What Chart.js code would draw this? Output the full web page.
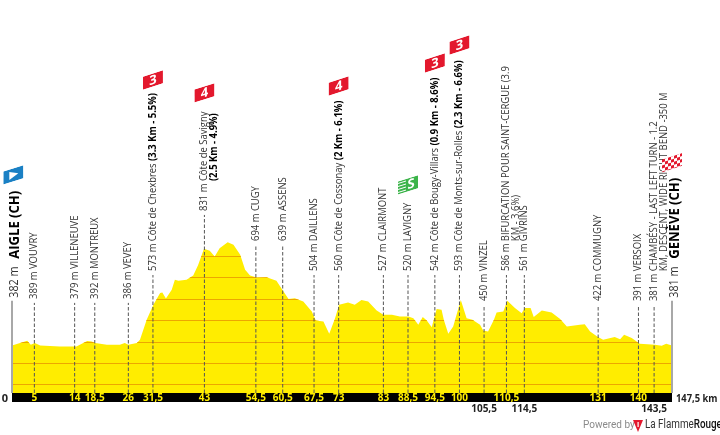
<!DOCTYPE html>
<html>
<head>
<meta charset="utf-8">
<title>Stage profile</title>
<script src="https://cdn.jsdelivr.net/npm/chart.js@4"></script>
<style>
  html, body { margin: 0; padding: 0; background: #fff; }
  canvas { display: block; }
</style>
</head>
<body>
<canvas id="profileChart" width="720" height="435"></canvas>
<script>
// ============ DATA ============

const profileKm = [0, 1.8, 3.4, 4.2, 5.1, 6.3, 10.7, 14.4, 16.8, 17.8, 18.6, 21.2, 24.1, 25.2, 26, 27.9, 28.6, 30.1, 31.6, 33.1, 33.6, 34.4, 35.7, 36.4, 37.2, 39, 40.5, 41.6, 42.9, 44.2, 45.3, 46.4, 48.2, 49.5, 51, 52.1, 53.2, 54.7, 56.9, 59.1, 60.6, 61.8, 63.2, 65.1, 67, 67.9, 69.6, 70.9, 72.2, 73.1, 75.1, 76.6, 78.1, 79.6, 81.5, 83, 84.9, 86.7, 88.6, 89.7, 90.8, 91.8, 92.7, 93.8, 94.9, 96, 96.5, 97.5, 98.6, 100.3, 101.6, 102.9, 104.6, 105.3, 106.4, 107.7, 108.3, 109.8, 110.7, 112.4, 113.9, 114.6, 115.9, 116.6, 118.4, 120.6, 122.5, 124, 126.9, 128, 129.2, 130.7, 132.1, 134.7, 135.9, 136.8, 138.5, 139.6, 140.3, 143.7, 145.2, 146.2, 147.5];
const profileAlt = [382, 393, 404, 385, 393, 382, 377, 377, 402, 400, 393, 385, 385, 393, 385, 393, 408, 501, 571, 626, 629, 600, 641, 688, 683, 688, 708, 757, 832, 823, 796, 835, 863, 851, 804, 734, 708, 698, 700, 683, 636, 598, 602, 587, 540, 498, 493, 436, 509, 571, 582, 571, 594, 587, 545, 525, 525, 517, 517, 509, 478, 514, 498, 467, 551, 548, 501, 436, 470, 594, 509, 501, 478, 451, 447, 501, 535, 540, 590, 556, 532, 556, 556, 514, 545, 535, 505, 470, 478, 481, 447, 424, 408, 421, 411, 431, 416, 400, 390, 385, 380, 390, 381];

const wpKm = [5, 14, 18.5, 26, 31.5, 43, 54.5, 60.5, 67.5, 73, 83, 88.5, 94.5, 100, 105.5, 110.5, 114.5, 131, 140, 143.5];
const wpAlt = [389, 379, 392, 386, 573, 831, 694, 639, 504, 560, 527, 520, 542, 593, 450, 586, 561, 422, 391, 381];
// "*" starts the bold part, "\n" wraps to the next line
const wpName = ['VOUVRY', 'VILLENEUVE', 'MONTREUX', 'VEVEY', 'Côte de Chexbres *(3.3 Km - 5.5%)', 'Côte de Savigny\n*(2.5 Km - 4.9%)', 'CUGY', 'ASSENS', 'DAILLENS', 'Côte de Cossonay *(2 Km - 6.1%)', 'CLAIRMONT', 'LAVIGNY', 'Côte de Bougy-Villars *(0.9 Km - 8.6%)', 'Côte de Monts-sur-Rolles *(2.3 Km - 6.6%)', 'VINZEL', 'BIFURCATION POUR SAINT-CERGUE (3.9\nKM - 3.6%)', 'GIVRINS', 'COMMUGNY', 'VERSOIX', 'CHAMBÉSY - LAST LEFT TURN - 1.2\nKM, DESCENT, WIDE RIGHT BEND -350 M'];
// how high each dashed stem reaches, in metres on the profile scale
const wpStemTop = [580, 580, 580, 580, 710, 990, 850, 850, 710, 710, 710, 710, 710, 710, 570, 710, 710, 570, 570, 570];

const kmLowTicks = [105.5, 114.5, 143.5];
const kmTotal = 147.5;
const altLevels = [200, 300, 400, 500, 600, 700, 800];

const endKm = [0, 147.5];
const endAlt = ['382 m', '381 m'];
const endName = ['AIGLE (CH)', 'GENÈVE (CH)'];
const endStemTop = [590, 590];

const flagKm = [0.3, 31.5, 43, 73, 88.5, 94.5, 100, 147.5];
const flagType = ['start', '3', '4', '4', 'S', '3', '3', 'finish'];
const flagLevel = [1177, 1619, 1559, 1591, 1130, 1698, 1782, 1233];

// ============ STYLE ============

const FONT = '"Open Sans", sans-serif';
const YELLOW = '#ffed00';
const GRID_ORANGE = '#eda600';
const BASE_ALT = 160;

// ============ PLUGIN ============

const profileExtras = {
  id: 'profileExtras',
  beforeDraw(chart) {
    // black km band under the profile
    const { ctx, chartArea } = chart;
    ctx.fillStyle = '#000';
    ctx.fillRect(chartArea.left, chartArea.bottom, chartArea.right - chartArea.left, 9);
  },
  afterDatasetDraw(chart, args) {
    if (chart.data.datasets[args.index].label !== 'profile') return;
    // altitude lines only show inside the yellow shape
    const { ctx, chartArea, scales } = chart;
    const pts = args.meta.data;
    ctx.save();
    ctx.beginPath();
    ctx.moveTo(chartArea.left, chartArea.bottom);
    pts.forEach(p => ctx.lineTo(p.x, p.y));
    ctx.lineTo(chartArea.right, chartArea.bottom);
    ctx.closePath();
    ctx.clip();
    ctx.strokeStyle = GRID_ORANGE;
    ctx.lineWidth = 1;
    altLevels.forEach(a => {
      const y = Math.round(scales.y.getPixelForValue(a)) + 0.5;
      ctx.beginPath();
      ctx.moveTo(chartArea.left, y);
      ctx.lineTo(chartArea.right, y);
      ctx.stroke();
    });
    ctx.restore();
  },
  afterDraw(chart) {
    const { ctx, scales } = chart;
    wpKm.forEach((km, i) => {
      drawWaypoint(ctx, scales.x.getPixelForValue(km), scales.y.getPixelForValue(wpStemTop[i]) - 4, wpAlt[i], wpName[i]);
    });
    endKm.forEach((km, i) => {
      const x = scales.x.getPixelForValue(km) + 3;
      const y = scales.y.getPixelForValue(endStemTop[i]) - 3;
      rotated(ctx, x, y, () => {
        ctx.save();
        ctx.scale(0.9, 1);
        ctx.fillStyle = '#333';
        ctx.font = '12px ' + FONT;
        ctx.fillText(endAlt[i], 0, 0);
        ctx.restore();
        ctx.scale(0.87, 1);
        ctx.fillStyle = '#000';
        ctx.font = 'bold 15px ' + FONT;
        ctx.fillText(endName[i], 39 / 0.87, 0);
      });
    });
    flagKm.forEach((km, i) => {
      drawFlag(ctx, scales.x.getPixelForValue(km), scales.y.getPixelForValue(flagLevel[i]), flagType[i]);
    });
    drawAxisEnds(ctx, chart);
    drawFooter(ctx);
  }
};

function rotated(ctx, x, y, fn) {
  ctx.save();
  ctx.translate(x, y);
  ctx.rotate(-Math.PI / 2);
  ctx.textAlign = 'left';
  ctx.textBaseline = 'middle';
  fn();
  ctx.restore();
}

function drawWaypoint(ctx, x, y, alt, name) {
  rotated(ctx, x, y, () => {
    // the labels are a bit condensed, so squeeze along the text
    ctx.scale(0.9, 1);
    ctx.fillStyle = '#333';
    ctx.font = '10.5px ' + FONT;
    const head = alt + ' m ';
    ctx.fillText(head, 0, 0);
    const indent = ctx.measureText(head).width;
    name.split('\n').forEach((line, n) => {
      const parts = line.split('*');
      const offY = n * 10;
      let cx = indent;
      parts.forEach((part, p) => {
        if (!part) return;
        ctx.font = (p === 1 ? 'bold ' : '') + '10.5px ' + FONT;
        ctx.fillStyle = p === 1 ? '#000' : '#333';
        ctx.fillText(part, cx, offY);
        cx += ctx.measureText(part).width;
      });
    });
  });
}

function drawFlag(ctx, x, y, type) {
  const w = 20, h = 13;
  ctx.save();
  ctx.translate(x, y);
  ctx.transform(1, -0.32, 0, 1, 0, 0);
  ctx.beginPath();
  ctx.rect(-w / 2, -h / 2, w, h);
  ctx.save();
  ctx.clip();
  ctx.fillStyle = type === 'start' ? '#1a80c4' : type === 'S' ? '#3cb44a' : '#e3182d';
  ctx.fillRect(-w / 2, -h / 2, w, h);
  ctx.fillStyle = '#fff';
  if (type === 'finish') {
    for (let r = 0; r < 5; r++) {
      for (let c = 0; c < 7; c++) {
        if ((r + c) % 2) ctx.fillRect(-w / 2 + c * 3, -h / 2 + r * 3, 3, 3);
      }
    }
  } else if (type === 'start') {
    ctx.beginPath();
    ctx.moveTo(-4, -4);
    ctx.lineTo(5, 0);
    ctx.lineTo(-4, 4);
    ctx.closePath();
    ctx.fill();
  } else {
    if (type === 'S') {
      for (let k = 0; k < 4; k++) ctx.fillRect(-w / 2, -5 + k * 3, 8, 1);
    }
    ctx.font = 'bold 13px ' + FONT;
    ctx.textAlign = 'center';
    ctx.textBaseline = 'middle';
    ctx.fillText(type, type === 'S' ? 3 : 0, 0.5);
  }
  ctx.restore();
  ctx.restore();
}

function drawAxisEnds(ctx, chart) {
  const { chartArea } = chart;
  ctx.save();
  ctx.fillStyle = '#222';
  ctx.font = 'bold 11px ' + FONT;
  ctx.textBaseline = 'middle';
  ctx.textAlign = 'right';
  ctx.fillText('0', chartArea.left - 4, chartArea.bottom + 6);
  ctx.textAlign = 'left';
  ctx.translate(chartArea.right + 4, chartArea.bottom + 6);
  ctx.scale(0.85, 1);
  ctx.fillText(String(kmTotal).replace('.', ',') + ' km', 0, 0);
  ctx.restore();
}

function drawFooter(ctx) {
  ctx.save();
  ctx.textBaseline = 'middle';
  ctx.textAlign = 'left';
  ctx.fillStyle = '#8a8a8a';
  ctx.font = '10px Roboto, sans-serif';
  ctx.fillText('Powered by', 583, 425);
  // logo
  ctx.fillStyle = '#e3182d';
  ctx.beginPath();
  ctx.moveTo(633, 420);
  ctx.lineTo(643, 420);
  ctx.lineTo(638, 432);
  ctx.closePath();
  ctx.fill();
  ctx.fillStyle = '#fff';
  ctx.fillRect(637.5, 422, 1.2, 5);
  ctx.translate(645, 425);
  ctx.scale(0.82, 1);
  ctx.fillStyle = '#333';
  ctx.font = '12px Roboto, sans-serif';
  ctx.fillText('La Flamme', 0, 0);
  const w = ctx.measureText('La Flamme').width;
  ctx.fillStyle = '#111';
  ctx.font = '500 12px Roboto, sans-serif';
  ctx.fillText('Rouge', w, 0);
  ctx.restore();
}

// ============ CHART ============

const stemPoints = [];
wpKm.forEach((km, i) => {
  stemPoints.push({ x: km, y: BASE_ALT }, { x: km, y: wpStemTop[i] }, { x: km, y: null });
});
const endPoints = [];
endKm.forEach((km, i) => {
  endPoints.push({ x: km, y: BASE_ALT }, { x: km, y: endStemTop[i] }, { x: km, y: null });
});

new Chart(document.getElementById('profileChart'), {
  type: 'line',
  data: {
    datasets: [
      {
        label: 'stems',
        data: stemPoints,
        order: 1,
        borderColor: '#555',
        borderWidth: 1,
        borderDash: [3.5, 2],
        pointRadius: 0,
        fill: false,
        spanGaps: false
      },
      {
        label: 'ends',
        data: endPoints,
        order: 2,
        borderColor: '#a8a8a8',
        borderWidth: 2,
        pointRadius: 0,
        fill: false,
        spanGaps: false,
        clip: false
      },
      {
        label: 'profile',
        data: profileKm.map((km, i) => ({ x: km, y: profileAlt[i] })),
        order: 3,
        borderWidth: 0,
        backgroundColor: YELLOW,
        pointRadius: 0,
        fill: 'start',
        tension: 0
      }
    ]
  },
  options: {
    responsive: false,
    animation: false,
    events: [],
    layout: { padding: { left: 12, right: 48, top: 0, bottom: 0 } },
    plugins: { legend: { display: false }, tooltip: { enabled: false }, title: { display: false } },
    scales: {
      x: {
        type: 'linear',
        min: 0,
        max: kmTotal,
        grid: { display: false, drawTicks: false },
        border: { display: false },
        afterBuildTicks: axis => { axis.ticks = wpKm.map(v => ({ value: v })); },
        afterFit: axis => { axis.height = 42; },
        ticks: {
          autoSkip: false,
          maxRotation: 0,
          minRotation: 0,
          padding: 0,
          font: { family: FONT, weight: 'bold', size: 10, lineHeight: 1.05 },
          color: c => kmLowTicks.includes(c.tick.value) ? '#222' : YELLOW,
          callback: v => {
            const t = String(v).replace('.', ',');
            return kmLowTicks.includes(v) ? ['', t] : t;
          }
        }
      },
      y: {
        display: false,
        min: BASE_ALT,
        max: 1992
      }
    }
  },
  plugins: [profileExtras]
});
</script>
</body>
</html>
